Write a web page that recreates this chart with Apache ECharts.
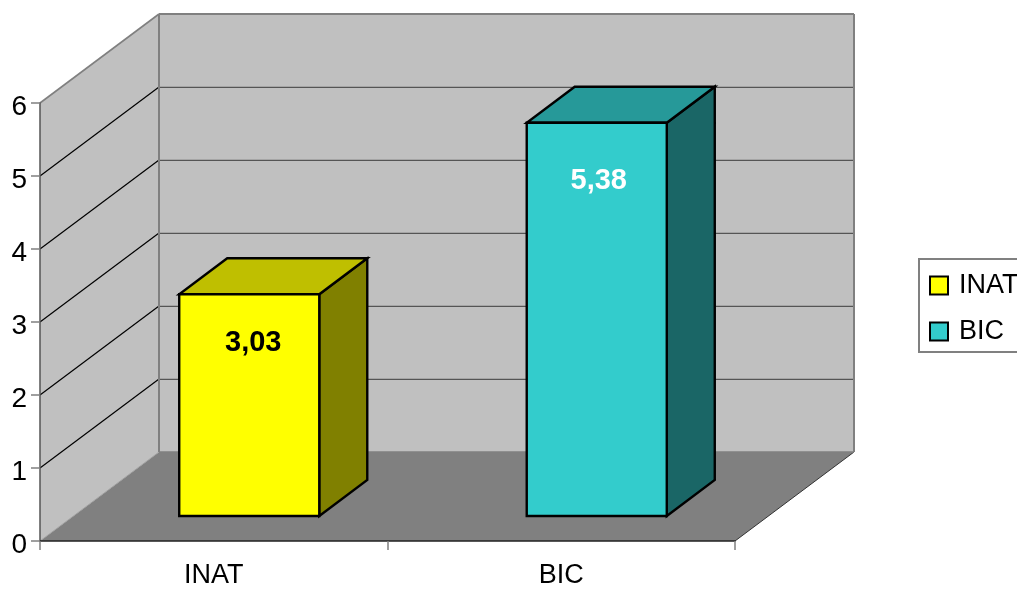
<!DOCTYPE html>
<html><head><meta charset="utf-8">
<style>html,body{margin:0;padding:0;background:#fff}#c{width:1017px;height:589px}</style>
<script src="https://cdn.jsdelivr.net/npm/echarts@6/dist/echarts.min.js"></script>
</head><body><div id="c"></div>
<script>
const categories = ['INAT', 'BIC'];
const seriesNames = ['INAT', 'BIC'];
const inatValues = [['INAT', 3.03]];
const bicValues = [['BIC', 5.38]];
const inatLabelLevel = 2.38;
const bicLabelLevel = 4.6;
const yTicks = [1, 2, 3, 4, 5];

const FONT = '"Liberation Sans", Arial, sans-serif';
const WALL_DX = 119, WALL_DY = -89;
const FRONT_DX = 35.5, FRONT_DY = -25, BAR_DX = 48, BAR_DY = -36, BAR_RATIO = 0.403;

function poly(points, fill, stroke, lw) {
  return { type: 'polygon', shape: { points }, silent: true,
    style: { fill, stroke: stroke || null, lineWidth: lw || 0, lineJoin: 'miter' } };
}
function line(a, b, stroke, lw) {
  return { type: 'line', silent: true,
    shape: { x1: a[0], y1: a[1], x2: b[0], y2: b[1] },
    style: { stroke, lineWidth: lw } };
}
function renderWalls(params, api) {
  const r = params.coordSys;
  const L = r.x, R = r.x + r.width, T = r.y, B = r.y + r.height;
  const ch = [
    poly([[L, B], [R, B], [R + WALL_DX, B + WALL_DY], [L + WALL_DX, B + WALL_DY]], '#808080'),
    line([R, B], [R + WALL_DX, B + WALL_DY], '#333333', 1),
    poly([[L, T], [L + WALL_DX, T + WALL_DY], [L + WALL_DX, B + WALL_DY], [L, B]], '#C0C0C0'),
    poly([[L + WALL_DX, T + WALL_DY], [R + WALL_DX, T + WALL_DY], [R + WALL_DX, B + WALL_DY], [L + WALL_DX, B + WALL_DY]], '#C0C0C0')
  ];
  yTicks.forEach(v => {
    const y = api.coord([0, v])[1];
    ch.push(line([L, y], [L + WALL_DX, y + WALL_DY], '#000000', 1.2));
    ch.push(line([L + WALL_DX, y + WALL_DY + 0.4], [R + WALL_DX, y + WALL_DY + 0.4], '#555555', 1.4));
  });
  ch.push(line([L, B], [L + WALL_DX, B + WALL_DY], '#A0A0A0', 1));
  ch.push(line([L, T], [L + WALL_DX, T + WALL_DY], '#808080', 1.6));
  ch.push(line([L + WALL_DX, T + WALL_DY], [R + WALL_DX, T + WALL_DY], '#808080', 2));
  ch.push(line([L + WALL_DX, T + WALL_DY], [L + WALL_DX, B + WALL_DY], '#808080', 2));
  ch.push(line([R + WALL_DX, T + WALL_DY], [R + WALL_DX, B + WALL_DY], '#808080', 2));
  ch.push(line([L + WALL_DX, B + WALL_DY], [R + WALL_DX, B + WALL_DY], '#808080', 1.4));
  return { type: 'group', children: ch };
}
function barRenderer(front, side, top, textColor, labelLevel, labelDx) {
  return function (params, api) {
    const idx = api.value(0), val = api.value(1);
    const base = api.coord([idx, 0]), peak = api.coord([idx, val]);
    const w = api.size([1, 0])[0] * BAR_RATIO;
    const x0 = base[0] + FRONT_DX - w / 2, x1 = x0 + w;
    const yb = base[1] + FRONT_DY, yt = peak[1] + FRONT_DY - 0.5;
    const labelY = api.coord([idx, labelLevel])[1] + FRONT_DY + 1;
    const S = '#000000', LW = 2.4;
    return { type: 'group', children: [
      poly([[x1, yb], [x1 + BAR_DX, yb + BAR_DY], [x1 + BAR_DX, yt + BAR_DY], [x1, yt]], side, S, LW),
      poly([[x0, yt], [x1, yt], [x1 + BAR_DX, yt + BAR_DY], [x0 + BAR_DX, yt + BAR_DY]], top, S, LW),
      poly([[x0, yb], [x1, yb], [x1, yt], [x0, yt]], front, S, LW),
      { type: 'text', silent: true, x: (x0 + x1) / 2 + labelDx, y: labelY,
        style: { text: String(val).replace('.', ','), fill: textColor, align: 'center', verticalAlign: 'middle',
          font: 'bold 29px ' + FONT } }
    ] };
  };
}
const chart = echarts.init(document.getElementById('c'), null, { renderer: 'canvas' });
chart.setOption({
  animation: false,
  backgroundColor: '#ffffff',
  grid: { left: 40, top: 103, width: 695, height: 438, containLabel: false },
  legend: {
    left: 919, top: 259, orient: 'vertical', data: seriesNames,
    icon: 'rect', itemWidth: 18, itemHeight: 18, itemGap: 19,
    padding: [13, 10, 7, 10],
    backgroundColor: '#ffffff', borderColor: '#808080', borderWidth: 2, borderRadius: 0,
    selectedMode: false,
    textStyle: { fontFamily: FONT, fontSize: 27, color: '#000000', padding: [0, 0, 0, 6], lineHeight: 26 },
    itemStyle: { borderColor: '#000000', borderWidth: 2 }
  },
  xAxis: {
    type: 'category', data: categories, boundaryGap: true, z: 5,
    axisLine: { lineStyle: { color: '#222222', width: 1.5 } },
    axisTick: { show: true, length: 9, lineStyle: { color: '#808080', width: 1.5 } },
    axisLabel: { fontFamily: FONT, fontSize: 27, color: '#000000', margin: 21 }
  },
  yAxis: {
    type: 'value', min: 0, max: 6, interval: 1, z: 5,
    axisLine: { show: true, lineStyle: { color: '#555555', width: 1.5 } },
    axisTick: { show: true, length: 9, lineStyle: { color: '#808080', width: 1.5 } },
    axisLabel: { color: '#000000', margin: 13, formatter: '{n|{value}}',
      rich: { n: { fontFamily: FONT, fontSize: 28, color: '#000000', padding: [8, 0, 0, 0] } } },
    splitLine: { show: false }
  },
  series: [
    { type: 'custom', name: 'walls', silent: true, z: 1, data: [[0, 0]], renderItem: renderWalls, encode: { x: 0, y: 1 } },
    { type: 'custom', name: seriesNames[0], z: 2, silent: true, data: inatValues, encode: { x: 0, y: 1 },
      itemStyle: { color: '#FFFF00', borderColor: '#000000', borderWidth: 2 },
      renderItem: barRenderer('#FFFF00', '#808000', '#BFBF00', '#000000', inatLabelLevel, 4) },
    { type: 'custom', name: seriesNames[1], z: 2, silent: true, data: bicValues, encode: { x: 0, y: 1 },
      itemStyle: { color: '#33CCCC', borderColor: '#000000', borderWidth: 2 },
      renderItem: barRenderer('#33CCCC', '#1A6666', '#269999', '#FFFFFF', bicLabelLevel, 2) }
  ]
});
</script></body></html>
